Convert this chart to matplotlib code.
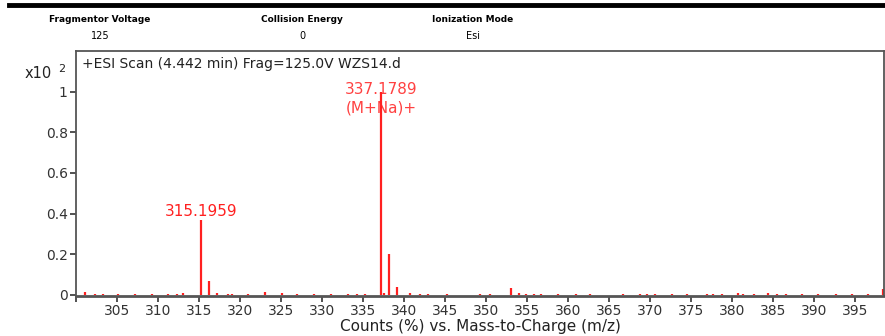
import matplotlib
matplotlib.use("Agg")
import matplotlib.pyplot as plt
from matplotlib.lines import Line2D

# Acquisition parameters shown in the header
header_names = ["Fragmentor Voltage", "Collision Energy", "Ionization Mode"]
header_values = ["125", "0", "Esi"]

# Spectrum peaks: m/z and relative abundance (x10^2 counts %)
mz = [301.1, 302.3, 303.3, 305.1, 307.2, 309.3, 311.2, 312.3, 313.1,
      315.1959, 316.2, 317.2, 318.5, 319.0, 321.0, 323.1, 325.1, 327.0,
      329.0, 331.1, 333.2, 334.2, 335.2, 337.1789, 337.5, 338.18, 339.18,
      340.7, 341.9, 342.9, 345.2, 349.3, 350.5, 353.0, 354.0, 354.9,
      355.8, 356.7, 358.8, 360.9, 362.7, 366.7, 368.8, 369.6, 370.6,
      372.7, 374.5, 376.9, 377.6, 378.8, 380.7, 381.3, 382.6, 384.4,
      385.5, 386.5, 388.5, 390.5, 392.6, 394.6, 396.6, 398.4]
abundance = [0.015, 0.005, 0.005, 0.005, 0.004, 0.005, 0.005, 0.006, 0.01,
             0.37, 0.07, 0.012, 0.004, 0.004, 0.004, 0.015, 0.01, 0.005,
             0.004, 0.004, 0.004, 0.004, 0.006, 1.0, 0.012, 0.2, 0.04,
             0.012, 0.004, 0.005, 0.004, 0.004, 0.004, 0.035, 0.008, 0.006,
             0.006, 0.005, 0.004, 0.004, 0.004, 0.004, 0.005, 0.004, 0.004,
             0.004, 0.004, 0.005, 0.005, 0.004, 0.012, 0.004, 0.004, 0.01,
             0.004, 0.004, 0.004, 0.004, 0.004, 0.004, 0.004, 0.03]

# Annotated peaks
labeled_mz = [315.1959, 337.1789]
labeled_abundance = [0.37, 1.0]
labeled_mass = ["315.1959", "337.1789"]
labeled_ion = ["", "(M+Na)+"]

x_ticks = list(range(300, 400, 5))
y_ticks = [0, 0.2, 0.4, 0.6, 0.8, 1.0]
y_tick_labels = ["0", "0.2", "0.4", "0.6", "0.8", "1"]

red = "#ff2020"
ink = "#222222"

plt.rcParams["font.family"] = ["DejaVu Sans"]
fig = plt.figure(figsize=(8.85, 3.36), dpi=100)

# Header band
fig.add_artist(Line2D([0.01, 1.0], [0.985, 0.985], color="black", lw=3.5,
                      transform=fig.transFigure))
header_x = [100, 302, 473]
for hx, name, val in zip(header_x, header_names, header_values):
    fig.text(hx / 885, 1 - 20 / 336, name, ha="center", va="center",
             fontsize=6.5, fontweight="bold")
    fig.text(hx / 885, 1 - 36 / 336, val, ha="center", va="center",
             fontsize=7)

ax = fig.add_axes([76 / 885, 1 - 296 / 336, 808 / 885, 245 / 336])
ax.vlines(mz, 0, abundance, color=red, lw=1.6)

for m, a, mass, ion in zip(labeled_mz, labeled_abundance, labeled_mass,
                           labeled_ion):
    if ion:
        # Label sits over the top of the base peak
        ax.text(m, a + 0.01, mass, ha="center", va="center", color=red,
                fontsize=11, alpha=0.85)
        ax.text(m, a - 0.08, ion, ha="center", va="center", color=red,
                fontsize=11, alpha=0.85)
    else:
        ax.text(m, a + 0.04, mass, ha="center", va="center", color=red,
                fontsize=11)

ax.set_xlim(300, 398.5)
ax.set_ylim(-0.005, 1.2)
ax.set_xticks(x_ticks)
ax.set_xticklabels([""] + [str(v) for v in x_ticks[1:]])
ax.set_yticks(y_ticks)
ax.set_yticklabels(y_tick_labels)
ax.tick_params(axis="both", direction="out", length=4, width=1.2,
               labelsize=10, colors="#333333", pad=2)
for s in ax.spines.values():
    s.set_color("#555555")
    s.set_linewidth(1.3)
ax.spines["bottom"].set_linewidth(2)

ax.text(0.007, 0.975, "+ESI Scan (4.442 min) Frag=125.0V WZS14.d",
        transform=ax.transAxes, ha="left", va="top", fontsize=10,
        color=ink)
fig.text(25 / 885, 1 - 73 / 336, "x10", ha="left", va="center",
         fontsize=10.5, color=ink)
fig.text(58 / 885, 1 - 69 / 336, "2", ha="left", va="center", fontsize=8,
         color=ink)

ax.set_xlabel("Counts (%) vs. Mass-to-Charge (m/z)", fontsize=11,
              color=ink, labelpad=0)
ax.xaxis.set_label_coords(0.5, -0.092)

fig.savefig("out.png", dpi=100)
